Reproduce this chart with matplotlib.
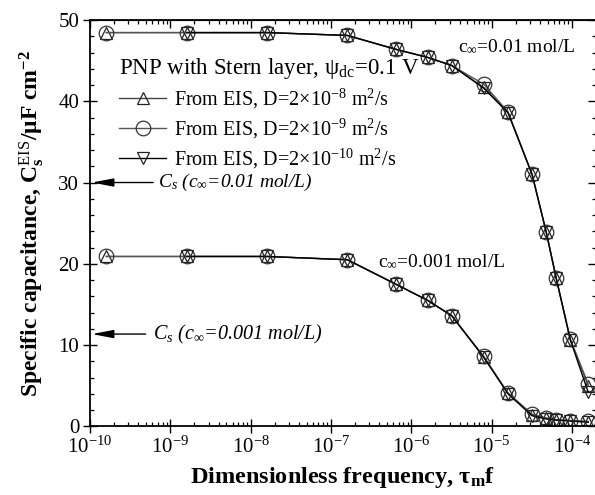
import numpy as np
import matplotlib
matplotlib.use('Agg')
import matplotlib.pyplot as plt
from matplotlib.ticker import LogLocator, MultipleLocator, NullFormatter, FuncFormatter

plt.rcParams['font.family'] = ['Liberation Serif', 'DejaVu Serif']
plt.rcParams['mathtext.fontset'] = 'custom'
plt.rcParams['mathtext.rm'] = 'Liberation Serif'
plt.rcParams['mathtext.it'] = 'Liberation Serif:italic'
plt.rcParams['mathtext.bf'] = 'Liberation Serif:bold'

# dimensionless frequency tau_m * f
freq = [1.6e-10, 1.6e-9, 1.6e-8, 1.6e-7, 6.4e-7, 1.6e-6, 3.2e-6, 8e-6,
        1.6e-5, 3.2e-5, 4.8e-5, 6.4e-5, 9.6e-5, 1.6e-4]

# c_inf = 0.01 mol/L
cs_hi_D8 = [48.45, 48.45, 48.45, 48.1, 46.4, 45.4, 44.4, 41.7, 38.7, 31.0, 23.9, 18.2, 10.6, 5.0]
cs_hi_D9 = [48.45, 48.45, 48.45, 48.1, 46.4, 45.4, 44.4, 42.1, 38.7, 31.0, 23.9, 18.2, 10.7, 5.2]
cs_hi_D10 = [48.45, 48.45, 48.1, 46.4, 45.4, 44.4, 41.6, 38.6, 31.0, 23.9, 18.2, 10.6, 4.2]

# c_inf = 0.001 mol/L
cs_lo_D8 = [20.9, 20.9, 20.9, 20.5, 17.5, 15.5, 13.6, 8.5, 4.1, 1.4, 1.0, 0.8, 0.7, 0.55]
cs_lo_D9 = [20.9, 20.9, 20.9, 20.5, 17.5, 15.5, 13.6, 8.6, 4.1, 1.5, 1.0, 0.8, 0.7, 0.6]
cs_lo_D10 = [20.9, 20.9, 20.5, 17.5, 15.5, 13.6, 8.5, 4.0, 1.3, 0.9, 0.75, 0.65, 0.5]

cs_ref_hi = 30.0
cs_ref_lo = 11.35

fig = plt.figure(figsize=(5.95, 4.95), dpi=100)
ax = fig.add_axes([90/595, 1 - 426.3/495, 506/595, 406.3/495])

tri = dict(marker='^', ms=8, mfc='none', mec='#222222', mew=0.9, color='#444444', lw=1.0)
cir = dict(marker='o', ms=10.5, mfc='none', mec='#333333', mew=0.9, color='#555555', lw=1.0)
dtri = dict(marker='v', ms=8, mfc='none', mec='#222222', mew=0.9, color='black', lw=1.0)

l1, = ax.plot(freq, cs_hi_D8, **tri)
l2, = ax.plot(freq, cs_hi_D9, **cir)
l3, = ax.plot(freq[1:], cs_hi_D10, **dtri)
ax.plot(freq, cs_lo_D8, **tri)
ax.plot(freq, cs_lo_D9, **cir)
ax.plot(freq[1:], cs_lo_D10, **dtri)

ax.set_xscale('log')
ax.set_xlim(1e-10, 2e-4)
ax.set_ylim(0, 50)
ax.xaxis.set_major_locator(LogLocator(base=10, numticks=20))
ax.xaxis.set_major_formatter(FuncFormatter(lambda v, p: r'10$^{\mathrm{%d}}$' % round(np.log10(v))))
ax.xaxis.set_minor_locator(LogLocator(base=10, subs=np.arange(2, 10), numticks=20))
ax.xaxis.set_minor_formatter(NullFormatter())
ax.yaxis.set_major_locator(MultipleLocator(10))
ax.yaxis.set_minor_locator(MultipleLocator(2))

for s in ax.spines.values():
    s.set_linewidth(1.3)
ax.tick_params(which='major', direction='inout', length=9.5, width=1.0, labelsize=15, pad=3)
ax.tick_params(which='minor', direction='in', length=3, width=0.9)

# inward ticks on top and right
top = ax.secondary_xaxis('top')
top.xaxis.set_major_locator(LogLocator(base=10, numticks=20))
top.xaxis.set_minor_locator(LogLocator(base=10, subs=np.arange(2, 10), numticks=20))
top.tick_params(which='major', direction='in', length=6, width=1.0, labeltop=False)
top.tick_params(which='minor', direction='in', length=3, width=0.9)
top.xaxis.set_minor_formatter(NullFormatter())
right = ax.secondary_yaxis('right')
right.yaxis.set_major_locator(MultipleLocator(10))
right.yaxis.set_minor_locator(MultipleLocator(2))
right.tick_params(which='major', direction='in', length=6, width=1.0, labelright=False)
right.tick_params(which='minor', direction='in', length=3, width=0.9)

ax.set_xlabel(r'Dimensionless frequency, τ$_{\mathbf{m}}$f', fontsize=17.5, fontweight='bold', labelpad=5)
ax.set_ylabel(r'Specific capacitance, C$_{\mathbf{s}}^{\mathrm{EIS}}$/μF cm$^{\mathbf{-2}}$',
              fontsize=17, fontweight='bold', labelpad=9)

ax.text(3.8e-6, 46.65, r'c$_\infty$=0.01 mol/L', fontsize=14, va='center', ha='left')
ax.text(3.86e-7, 20.2, r'c$_\infty$=0.001 mol/L', fontsize=14, va='center', ha='left')

arrow = dict(arrowstyle='-|>,head_length=1.3,head_width=0.25', color='black', lw=1.0,
             mutation_scale=10, shrinkA=0, shrinkB=0)
ax.annotate('', xy=(0.004, cs_ref_hi), xycoords=('axes fraction', 'data'),
            xytext=(0.125, cs_ref_hi), textcoords=('axes fraction', 'data'), arrowprops=arrow)
ax.text(0.134, cs_ref_hi, r'$C_s$ ($c_\infty$=0.01 mol/L)', transform=ax.get_yaxis_transform(),
        fontsize=14, fontstyle='italic', va='center', ha='left')
ax.annotate('', xy=(0.004, cs_ref_lo), xycoords=('axes fraction', 'data'),
            xytext=(0.11, cs_ref_lo), textcoords=('axes fraction', 'data'), arrowprops=arrow)
ax.text(0.124, cs_ref_lo, r'$C_s$ ($c_\infty$=0.001 mol/L)', transform=ax.get_yaxis_transform(),
        fontsize=14.5, fontstyle='italic', va='center', ha='left')

leg = ax.legend([l1, l2, l3],
                [r'From EIS, D=2×10$^{-8}$ m$^2$/s',
                 r'From EIS, D=2×10$^{-9}$ m$^2$/s',
                 r'From EIS, D=2×10$^{-10}$ m$^2$/s'],
                title=r'PNP with Stern layer, ψ$_{\mathrm{dc}}$=0.1 V',
                loc='upper left', bbox_to_anchor=(0.058, 0.912), frameon=False,
                fontsize=14.5, title_fontsize=16.5, handlelength=2.3, handletextpad=0.4,
                labelspacing=0.3, borderpad=0, borderaxespad=0)
leg._legend_box.align = 'left'

fig.savefig('out.png', dpi=100)
